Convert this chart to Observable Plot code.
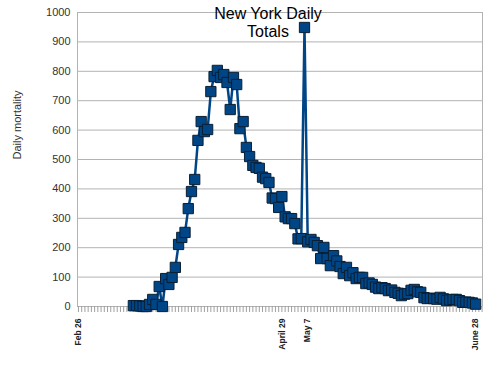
<!DOCTYPE html>
<html>
<head>
<meta charset="utf-8">
<script src="https://cdn.jsdelivr.net/npm/d3@7"></script>
<script src="https://cdn.jsdelivr.net/npm/@observablehq/plot@0.6"></script>
<style>
  html, body { margin: 0; padding: 0; background: #fff; }
  #chart { position: relative; width: 500px; height: 368px; }
</style>
</head>
<body>
<div id="chart"></div>
<script>
// Daily mortality values, one per day starting 2020-03-14
const firstDay = "2020-03-14";
const dailyDeaths = [
  3, 3, 2, 0, 0, 7, 24, 7, 68, 0,
  95, 75, 99, 133, 211, 235, 252, 333, 391, 432,
  565, 629, 595, 602, 731, 782, 803, 779, 789, 762,
  670, 779, 755, 605, 629, 541, 510, 480, 473, 470,
  440, 435, 422, 369, 367, 337, 374, 305, 299, 299,
  282, 230, 231, 949, 220, 228, 218, 207, 163, 201,
  163, 139, 173, 155, 136, 112, 133, 105, 115, 95,
  99, 99, 78, 80, 75, 66, 61, 64, 61, 54,
  56, 48, 45, 37, 42, 44, 55, 58, 50, 48,
  30, 27, 28, 27, 25, 31, 26, 20, 22, 24,
  24, 20, 14, 15, 14, 12, 8
];
const tickLabelDates = ["2020-02-26", "2020-04-29", "2020-05-07", "2020-06-28"];
const tickLabelTexts = ["Feb 26", "April 29", "May 7", "June 28"];
const yTicks = [0, 100, 200, 300, 400, 500, 600, 700, 800, 900, 1000];
const titleText = "New York Daily\nTotals";
const yLabel = "Daily mortality";

const start = new Date(firstDay + "T00:00:00Z");
const data = dailyDeaths.map((v, i) => ({
  date: d3.utcDay.offset(start, i),
  value: v
}));
const labelDates = tickLabelDates.map(s => new Date(s + "T00:00:00Z"));
const labelMap = new Map(labelDates.map((d, i) => [+d, tickLabelTexts[i]]));

const x0 = new Date(Date.UTC(2020, 1, 26, 0) - 0.3 * 864e5);
const x1 = new Date(Date.UTC(2020, 5, 30, 3));
const minorTicks = d3.utcDay.range(new Date(Date.UTC(2020,1,26)), new Date(Date.UTC(2020,5,30,1)));

const chart = Plot.plot({
  width: 500,
  height: 368,
  marginLeft: 77,
  marginRight: 18,
  marginTop: 12,
  marginBottom: 62,
  style: { fontFamily: "Liberation Sans, Arial, sans-serif", background: "#fff", overflow: "visible" },
  x: { type: "utc", domain: [x0, x1] },
  y: { domain: [0, 1000] },
  marks: [
    Plot.gridY(yTicks, { stroke: "#b3b3b3", strokeOpacity: 1 }),
    Plot.ruleX([x0, x1], { stroke: "#b3b3b3" }),
    Plot.axisY(yTicks, {
      tickSize: 0, tickPadding: 7, fontSize: 11, fill: "#333",
      tickFormat: d => String(d), label: null
    }),
    Plot.text([yLabel], {
      frameAnchor: "left", rotate: -90, dx: -60, dy: 0,
      fontSize: 11, fill: "#333"
    }),
    Plot.axisX(minorTicks, {
      tickSize: 6, stroke: "#a0a0a0", tickFormat: () => "", label: null
    }),
    Plot.axisX(labelDates, {
      tickSize: 0, tickPadding: 12, tickRotate: -90,
      tickFormat: d => labelMap.get(+d),
      fontSize: 8.5, fontWeight: "bold", fill: "#222", label: null
    }),
    Plot.line(data, { x: "date", y: "value", stroke: "#004586", strokeWidth: 2.5 }),
    Plot.dot(data, {
      x: "date", y: "value", symbol: "square", r: 5.8,
      fill: "#004586", stroke: "#0a1f33", strokeWidth: 1
    }),
    Plot.text([titleText], {
      frameAnchor: "top", dx: -12, dy: -6, lineAnchor: "top",
      fontSize: 16, fill: "#000", lineHeight: 1.1
    })
  ]
});
document.getElementById("chart").appendChild(chart);
</script>
</body>
</html>
